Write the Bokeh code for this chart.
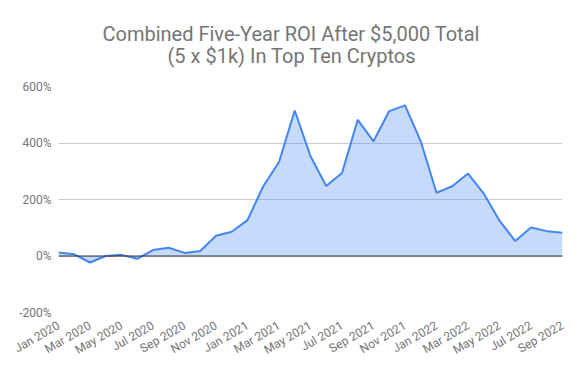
from bokeh.plotting import figure
from bokeh.models import Range1d, FixedTicker, Span, Title, ColumnDataSource
from bokeh.embed import file_html
from bokeh.resources import INLINE
import math

months = ["Jan 2020", "Feb 2020", "Mar 2020", "Apr 2020", "May 2020", "Jun 2020",
          "Jul 2020", "Aug 2020", "Sep 2020", "Oct 2020", "Nov 2020", "Dec 2020",
          "Jan 2021", "Feb 2021", "Mar 2021", "Apr 2021", "May 2021", "Jun 2021",
          "Jul 2021", "Aug 2021", "Sep 2021", "Oct 2021", "Nov 2021", "Dec 2021",
          "Jan 2022", "Feb 2022", "Mar 2022", "Apr 2022", "May 2022", "Jun 2022",
          "Jul 2022", "Aug 2022", "Sep 2022"]
roi = [12, 6, -23, 0, 4, -10, 21, 29, 11, 18, 72, 86,
       127, 247, 333, 515, 353, 248, 294, 482, 406, 513, 533, 406,
       224, 247, 292, 221, 125, 53, 101, 88, 82]
y_ticks = [-200, 0, 200, 400, 600]
y_tick_labels = ["-200%", "0%", "200%", "400%", "600%"]

idx = list(range(len(months)))
src = ColumnDataSource(dict(x=idx, y=roi, zero=[0] * len(idx)))

GREY = "#757575"
FONT = "Roboto"

p = figure(width=581, height=371, output_backend="svg", toolbar_location=None,
           x_range=Range1d(0, len(months) - 1), y_range=Range1d(-200, 600),
           min_border_left=58, min_border_right=19, min_border_bottom=59,
           min_border_top=86)
p.outline_line_color = None

t2 = Title(text="(5 x $1k) In Top Ten Cryptos", align="left", offset=109,
           text_font_size="20px", text_font=FONT, text_color=GREY,
           text_font_style="normal", standoff=37)
t1 = Title(text="Combined Five-Year ROI After $5,000 Total", align="left", offset=44,
           text_font_size="20px", text_font=FONT, text_color=GREY,
           text_font_style="normal", standoff=-45)
p.add_layout(t2, "above")
p.add_layout(t1, "above")

p.varea(x="x", y1="zero", y2="y", source=src, fill_color="#4285f4", fill_alpha=0.3)
p.add_layout(Span(location=0, dimension="width", line_color="#333333", line_width=1))
p.line(x="x", y="y", source=src, line_color="#4285f4", line_width=2)

p.xgrid.visible = False
p.ygrid.grid_line_color = "#cccccc"
p.ygrid.ticker = FixedTicker(ticks=y_ticks)

p.yaxis.ticker = FixedTicker(ticks=y_ticks)
p.yaxis.major_label_overrides = {t: l for t, l in zip(y_ticks, y_tick_labels)}
p.xaxis.ticker = FixedTicker(ticks=idx[::2])
p.xaxis.major_label_overrides = {i: months[i] for i in idx[::2]}
p.xaxis.major_label_orientation = math.pi / 6

for ax in (p.xaxis, p.yaxis):
    ax.axis_line_color = None
    ax.major_tick_line_color = None
    ax.minor_tick_line_color = None
    ax.major_tick_out = 0
    ax.major_tick_in = 0
    ax.major_label_text_font = FONT
    ax.major_label_text_font_size = "12px"
    ax.major_label_text_color = GREY
p.yaxis.major_label_standoff = 7
p.xaxis.major_label_standoff = 12

open("out.html", "w").write(file_html(p, INLINE))
